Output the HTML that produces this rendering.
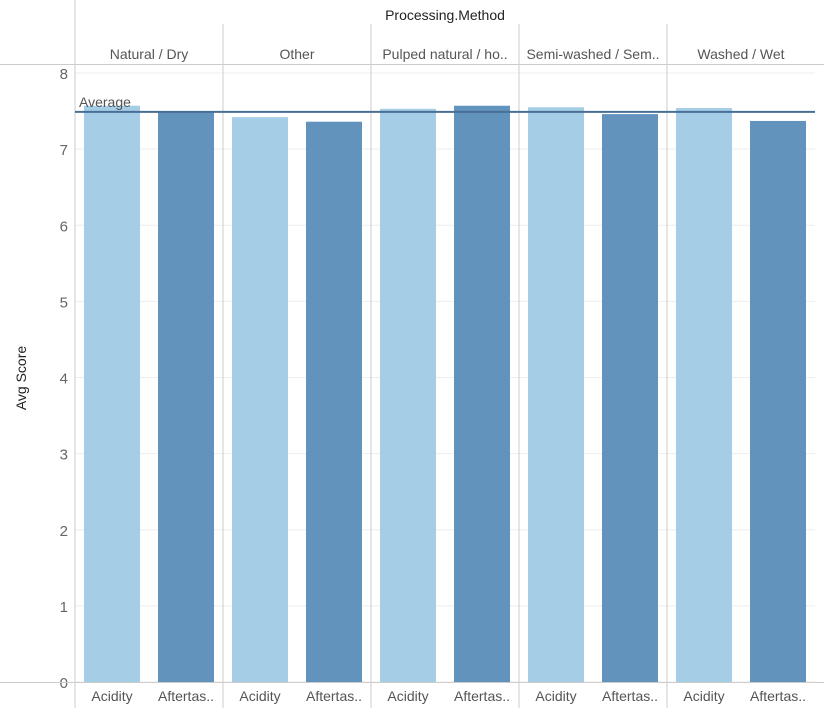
<!DOCTYPE html>
<html><head><meta charset="utf-8"><style>
body{margin:0;background:#fff;font-family:"Liberation Sans",sans-serif}
</style></head><body>
<svg id="c" width="824" height="716" xmlns="http://www.w3.org/2000/svg"></svg>
<script>
const categories=["Natural / Dry","Other","Pulped natural / ho..","Semi-washed / Sem..","Washed / Wet"];
const measures=["Acidity","Aftertas.."];
const acidity=[7.57,7.42,7.53,7.55,7.54];
const aftertaste=[7.49,7.36,7.57,7.46,7.37];
const yTicks=[0,1,2,3,4,5,6,7,8];
const averageValue=7.49;
const NS="http://www.w3.org/2000/svg";
const svg=document.getElementById('c');
const L=75,R=815,Y0=682,Y8=73,PW=(R-L)/categories.length;
function y(v){return Y0-(v/8)*(Y0-Y8);}
function mk(t,a,p){const e=document.createElementNS(NS,t);for(const k in a)e.setAttribute(k,a[k]);(p||svg).appendChild(e);return e;}
// gridlines & ticks
yTicks.forEach(v=>{
  const g=mk('line',{x1:L,x2:R,y1:y(v),y2:y(v),stroke:'#eeeeee'});
  
  
  const t=mk('text',{x:68,y:y(v)+6,'text-anchor':'end','font-size':15,fill:'#666'});
  t.textContent=v;
  
  
});
// frame lines
mk('line',{x1:L,x2:L,y1:0,y2:708,stroke:'#cccccc'});
mk('line',{x1:0,x2:R+9,y1:64.5,y2:64.5,stroke:'#cccccc'});
mk('line',{x1:0,x2:R+9,y1:682.5,y2:682.5,stroke:'#cccccc'});
const title=mk('text',{x:445,y:20,'text-anchor':'middle','font-size':14,fill:'#222'});
title.textContent='Processing.Method';


const yt=mk('text',{x:26,y:378,'text-anchor':'middle','font-size':14,fill:'#222',transform:'rotate(-90 26 378)'});
yt.textContent='Avg Score';


categories.forEach((c,i)=>{
  const x0=L+i*PW;
  if(i>0){const d=mk('line',{x1:x0,x2:x0,y1:24,y2:708,stroke:'#cccccc'});
    
    }
  const h=mk('text',{x:x0+PW/2,y:59,'text-anchor':'middle','font-size':14,fill:'#555'});
  h.textContent=c;
  
  
  [acidity[i],aftertaste[i]].forEach((v,j)=>{
    const bx=x0+9+j*74;
    const b=mk('rect',{x:bx,y:y(v),width:56,height:Y0-y(v),fill:j?'#6193bd':'#a6cde6'});
    
    
    const t=mk('text',{x:bx+28,y:701,'text-anchor':'middle','font-size':14,fill:'#555'});
    t.textContent=measures[j];
    
    
  });
});
const al=mk('line',{x1:L,x2:R,y1:y(averageValue),y2:y(averageValue),stroke:'#4a6f96','stroke-width':2});


const at=mk('text',{x:79,y:107,'font-size':14,fill:'#555'});
at.textContent='Average';


</script>
</body></html>
